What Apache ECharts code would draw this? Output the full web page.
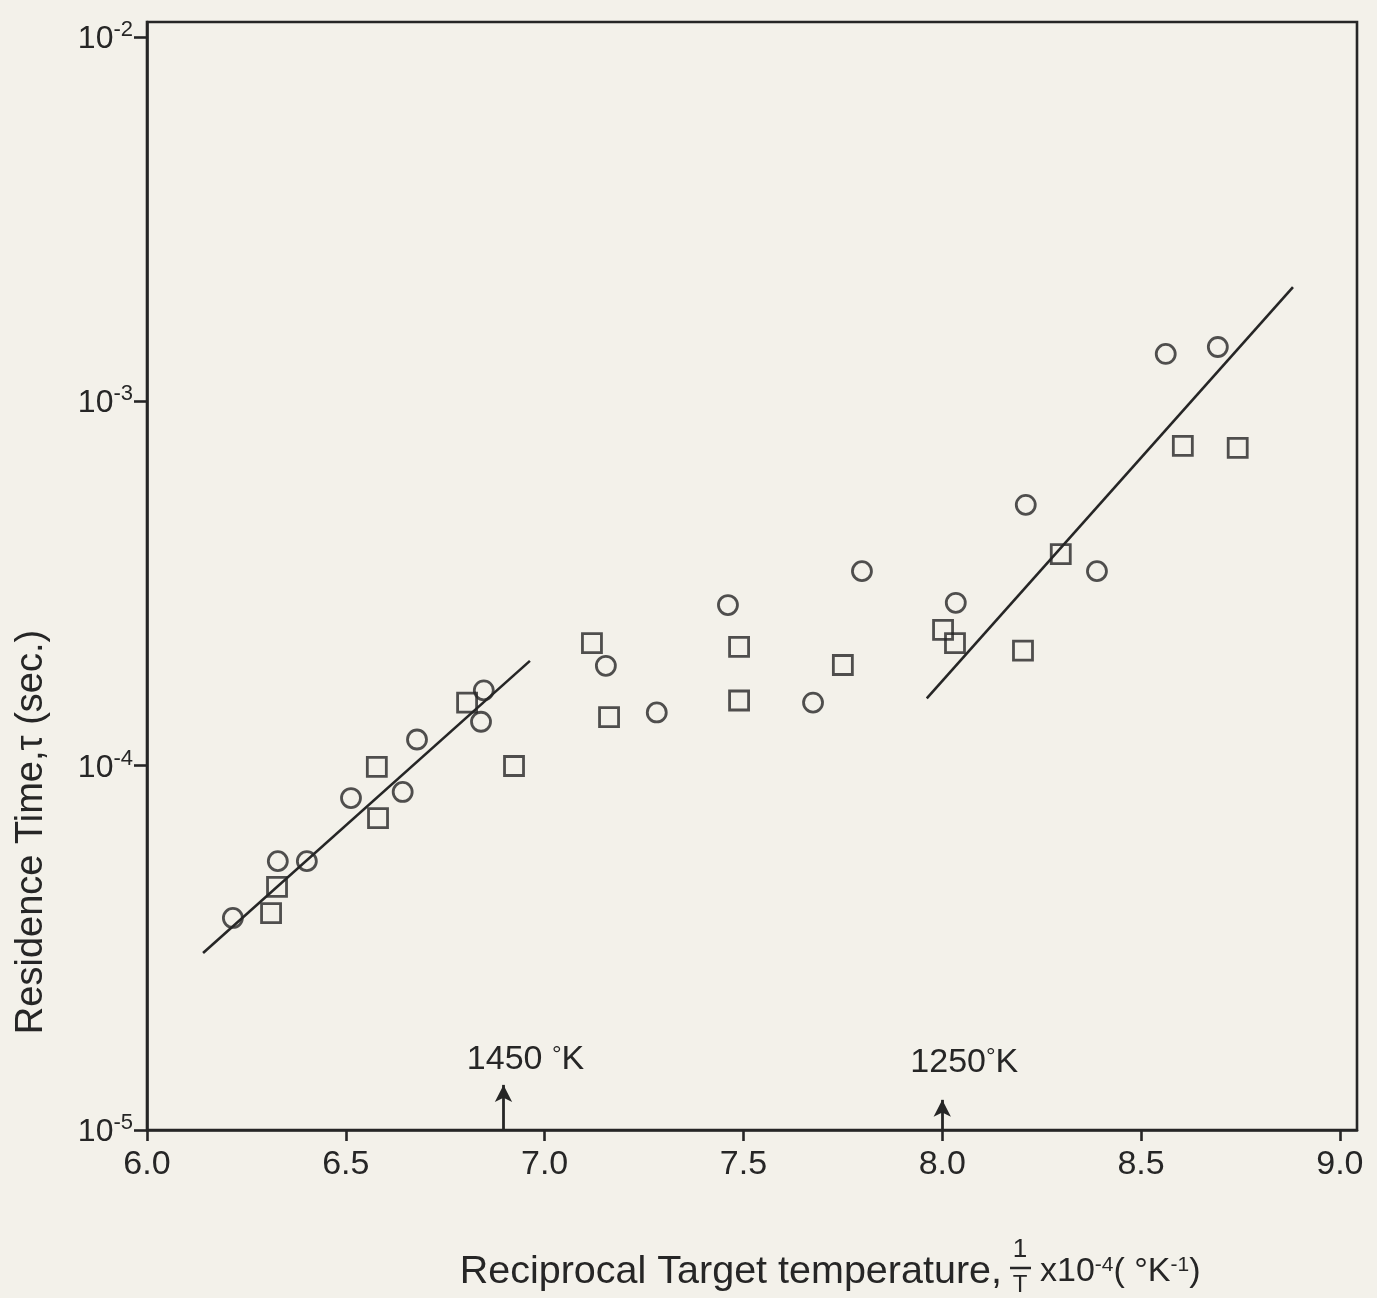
<!DOCTYPE html>
<html>
<head>
<meta charset="utf-8">
<script src="https://cdn.jsdelivr.net/npm/echarts@6/dist/echarts.min.js"></script>
<style>
  html, body { margin: 0; padding: 0; background: #f3f1ea; }
  #chart { width: 1377px; height: 1298px; }
</style>
</head>
<body>
<div id="chart"></div>
<script>
// reciprocal temperature (x1e-4 K^-1) vs residence time (s)
const xTicks = [6.0, 6.5, 7.0, 7.5, 8.0, 8.5, 9.0];
const yTicks = [1e-5, 1e-4, 1e-3, 1e-2];

const circleX = [6.216, 6.329, 6.402, 6.513, 6.643, 6.679, 6.847, 6.840, 7.154, 7.282, 7.461, 7.675, 7.798, 8.034, 8.210, 8.389, 8.562, 8.693];
const circleY = [3.82e-5, 5.47e-5, 5.47e-5, 8.15e-5, 8.47e-5, 1.18e-4, 1.61e-4, 1.32e-4, 1.88e-4, 1.40e-4, 2.76e-4, 1.49e-4, 3.42e-4, 2.80e-4, 5.20e-4, 3.42e-4, 1.35e-3, 1.41e-3];

const squareX = [6.312, 6.327, 6.581, 6.578, 6.805, 6.923, 7.119, 7.162, 7.489, 7.489, 7.750, 8.002, 8.032, 8.203, 8.298, 8.605, 8.743];
const squareY = [3.94e-5, 4.65e-5, 7.18e-5, 9.92e-5, 1.49e-4, 9.98e-5, 2.17e-4, 1.36e-4, 2.12e-4, 1.51e-4, 1.89e-4, 2.36e-4, 2.17e-4, 2.07e-4, 3.81e-4, 7.55e-4, 7.45e-4];

const fitLowX = [6.141, 6.963];
const fitLowY = [3.06e-5, 1.94e-4];
const fitHighX = [7.961, 8.882];
const fitHighY = [1.53e-4, 2.06e-3];

// temperature markers (K) and the height of their arrow tips
const arrowTemps = [1450, 1250];
const arrowTipY = [1.33e-5, 1.21e-5];
const arrowText = ['1450 {d|°}K', '1250{d|°}K'];

const ink = '#262626';
const font = 'Liberation Sans';
const zip = (xs, ys) => xs.map((x, i) => [x, ys[i]]);

const chart = echarts.init(document.getElementById('chart'));

const markerStyle = {
    color: 'transparent',
    borderColor: ink,
    borderWidth: 2.8
};

const option = {
    backgroundColor: '#f3f1ea',
    animation: false,
    grid: {
        left: 147,
        right: 20,
        top: 22,
        bottom: 168,
        show: true,
        borderColor: ink,
        borderWidth: 2.6
    },
    xAxis: {
        type: 'value',
        min: 6,
        max: 9.043,
        interval: 0.5,
        splitLine: { show: false },
        axisLine: { lineStyle: { color: ink, width: 2.6 } },
        axisTick: {
            customValues: xTicks,
            length: 11,
            lineStyle: { color: ink, width: 2.6 }
        },
        axisLabel: {
            customValues: xTicks,
            formatter: v => v.toFixed(1),
            margin: 18,
            color: ink,
            fontFamily: font,
            fontSize: 34
        }
    },
    yAxis: {
        type: 'log',
        logBase: 10,
        min: 1e-5,
        max: 0.011,
        splitLine: { show: false },
        axisLine: { lineStyle: { color: ink, width: 2.6 } },
        axisTick: {
            customValues: yTicks,
            length: 13,
            lineStyle: { color: ink, width: 2.6 }
        },
        axisLabel: {
            customValues: yTicks,
            margin: 14,
            color: ink,
            formatter: v => '{b|10}{s|-' + Math.round(-Math.log10(v)) + '}',
            rich: {
                b: { fontFamily: font, fontSize: 32, color: ink, verticalAlign: 'bottom' },
                s: { fontFamily: font, fontSize: 22, color: ink, verticalAlign: 'top', padding: [0, 0, 14, 0] }
            }
        }
    },
    graphic: [
        {
            type: 'text',
            x: 32,
            y: 832,
            rotation: Math.PI / 2,
            style: {
                text: 'Residence Time,\u03c4 (sec.)',
                fontFamily: font,
                fontSize: 38,
                fill: ink,
                align: 'center',
                verticalAlign: 'middle'
            }
        },
        {
            type: 'text',
            x: 1002,
            y: 1272,
            style: {
                text: 'Reciprocal Target temperature,',
                fontFamily: font,
                fontSize: 39.5,
                fill: ink,
                align: 'right',
                verticalAlign: 'middle'
            }
        },
        {
            type: 'text',
            x: 1020,
            y: 1250,
            style: { text: '1', fontFamily: font, fontSize: 26, fill: ink, align: 'center', verticalAlign: 'middle' }
        },
        {
            type: 'line',
            shape: { x1: 1010, y1: 1268, x2: 1031, y2: 1268 },
            style: { stroke: ink, lineWidth: 2.5 }
        },
        {
            type: 'text',
            x: 1020,
            y: 1285,
            style: { text: 'T', fontFamily: font, fontSize: 24, fill: ink, align: 'center', verticalAlign: 'middle' }
        },
        {
            type: 'text',
            x: 1040,
            y: 1272,
            style: {
                text: '{a|x10}{s|-4}{a|( °K}{s|-1}{a|)}',
                verticalAlign: 'middle',
                align: 'left',
                fill: ink,
                rich: {
                    a: { fontFamily: font, fontSize: 34, fill: ink, verticalAlign: 'bottom' },
                    s: { fontFamily: font, fontSize: 21, fill: ink, verticalAlign: 'top' }
                }
            }
        }
    ],
    series: [
        {
            name: 'fit (high T)',
            type: 'line',
            data: zip(fitLowX, fitLowY),
            symbol: 'none',
            lineStyle: { color: ink, width: 2.6 },
            markLine: {
                silent: true,
                symbol: ['none', 'arrow'],
                symbolSize: [13, 17],
                lineStyle: { color: ink, width: 2.8, type: 'solid' },
                label: {
                    show: true,
                    position: 'end',
                    color: ink,
                    fontFamily: font,
                    fontSize: 34,
                    offset: [22, 0],
                    formatter: p => arrowText[p.dataIndex],
                    rich: {
                        d: { fontFamily: font, fontSize: 24, color: ink, verticalAlign: 'top' }
                    }
                },
                data: arrowTemps.map((t, i) => [
                    { coord: [1e4 / t, 1e-5], label: { distance: i === 0 ? 8 : 20 } },
                    { coord: [1e4 / t, arrowTipY[i]] }
                ])
            }
        },
        {
            name: 'fit (low T)',
            type: 'line',
            data: zip(fitHighX, fitHighY),
            symbol: 'none',
            lineStyle: { color: ink, width: 2.6 }
        },
        {
            name: 'circles',
            type: 'scatter',
            data: zip(circleX, circleY),
            symbol: 'circle',
            symbolSize: 19,
            itemStyle: markerStyle
        },
        {
            name: 'squares',
            type: 'scatter',
            data: zip(squareX, squareY),
            symbol: 'rect',
            symbolSize: 19,
            itemStyle: markerStyle
        }
    ]
};

chart.setOption(option);
</script>
</body>
</html>
